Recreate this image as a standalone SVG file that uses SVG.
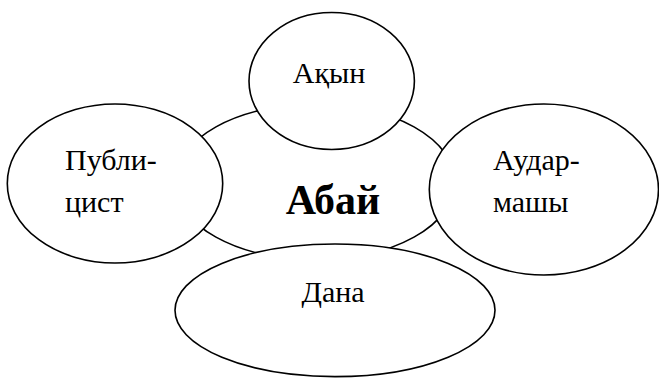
<svg xmlns="http://www.w3.org/2000/svg" width="659" height="378" viewBox="0 0 659 378">
<style>
.node ellipse{fill:#fff;stroke:#000;stroke-width:1.6}
text{font-family:"Liberation Serif","Times New Roman",serif;font-size:30px;fill:#000}
.c{text-anchor:middle}
.b{font-weight:bold;font-size:42px}
</style>
<rect width="659" height="378" fill="#fff"/>
<g id="connectors"></g>
<g id="abai" class="node">
<ellipse cx="315" cy="182" rx="140" ry="78"/>
<text class="c b" x="333" y="214">Абай</text>
</g>
<g id="akyn" class="node">
<ellipse cx="331.7" cy="81" rx="82.7" ry="68.5"/>
<text class="c" x="329" y="83">Ақын</text>
</g>
<g id="publitsist" class="node">
<ellipse cx="115" cy="183.5" rx="107.7" ry="79.5"/>
<text x="65" y="170">Публи-</text>
<text x="65" y="211.5">цист</text>
</g>
<g id="audarmashy" class="node">
<ellipse cx="543.9" cy="189.5" rx="114.6" ry="85.5"/>
<text x="493" y="170">Аудар-</text>
<text x="493" y="211.5">машы</text>
</g>
<g id="dana" class="node">
<ellipse cx="335" cy="310.3" rx="160" ry="66.3"/>
<text class="c" x="333" y="302">Дана</text>
</g>
</svg>
